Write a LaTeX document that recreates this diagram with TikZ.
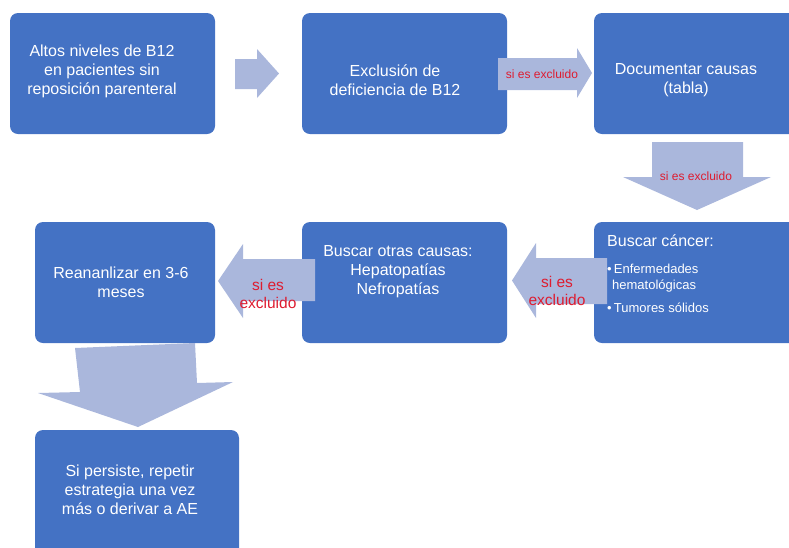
\documentclass[tikz,border=0pt]{standalone}
\usepackage{fontspec}
\setmainfont{Liberation Sans}
\usetikzlibrary{positioning}
\definecolor{boxblue}{RGB}{68,114,196}
\definecolor{arrowblue}{RGB}{170,183,220}
\definecolor{labelred}{RGB}{222,28,48}

\begin{document}
\begin{tikzpicture}[x=1pt,y=-1pt,
  box/.style={fill=boxblue,rounded corners=8pt,inner sep=0pt},
  boxtext/.style={text=white,align=center,font=\fontsize{16}{19}\selectfont,inner sep=0pt},
  blockarrow/.style={fill=arrowblue},
  smalllabel/.style={text=labelred,font=\fontsize{12}{14}\selectfont,inner sep=0pt},
  biglabel/.style={text=labelred,align=center,font=\fontsize{15.5}{18.5}\selectfont,inner sep=0pt}]
\useasboundingbox (0,0) rectangle (789,547);
\clip (0,0) rectangle (789,547);
% boxes
\node[box,minimum width=205pt,minimum height=121pt] (b1) at (112.5,73.5) {};
\node[box,minimum width=205pt,minimum height=121pt] (b2) at (404.5,73.5) {};
\node[box,minimum width=210pt,minimum height=121pt] (b3) at (699,73.5) {};
\node[box,minimum width=210pt,minimum height=121pt] (b4) at (699,282.5) {};
\node[box,minimum width=205pt,minimum height=121pt] (b5) at (404.5,282.5) {};
\node[box,minimum width=180pt,minimum height=121pt] (b6) at (125,282.5) {};
\node[box,minimum width=204pt,minimum height=130pt] (b7) at (137,495) {};
% block arrows
\fill[blockarrow] (235,59) -- (257,59) -- (257,49) -- (279,73.5) -- (257,98) -- (257,89) -- (235,89) -- cycle;
\fill[blockarrow] (498,58) -- (577,58) -- (577,48) -- (592,73) -- (577,98) -- (577,90) -- (498,90) -- cycle;
\fill[blockarrow] (652,142) -- (743,142) -- (743,177) -- (771,177) -- (697,210) -- (623,177) -- (652,177) -- cycle;
\fill[blockarrow] (607,258) -- (536,258) -- (536,243) -- (512,280.5) -- (536,318) -- (536,304) -- (607,304) -- cycle;
\fill[blockarrow] (315,259) -- (243,259) -- (243,244) -- (218,281) -- (243,318) -- (243,301) -- (315,301) -- cycle;
\fill[blockarrow] (75,348) -- (195,343) -- (197,383) -- (233,382) -- (138,427) -- (38,393) -- (80,392) -- cycle;
% texts
\node[boxtext] (t1) at (102,71) {Altos niveles de B12\\en pacientes sin\\reposición parenteral};
\node[boxtext] (t2) at (395,80) {Exclusión de\\deficiencia de B12};
\node[boxtext] (t3) at (686,80) {Documentar causas\\(tabla)};
\node[boxtext] (t5) at (398,272) {Buscar otras causas:\\Hepatopatías\\Nefropatías};
\node[boxtext] (t6) at (121,282) {Reananlizar en 3-6\\meses};
\node[boxtext] (t7) at (130,490) {Si persiste, repetir\\estrategia una vez\\más o derivar a AE};
\node[text=white,inner sep=0pt,anchor=base west,font=\fontsize{16}{19}\selectfont] (h4) at (607,246) {Buscar cáncer:};
\node[text=white,inner sep=0pt,anchor=base west,font=\fontsize{13}{16}\selectfont] (e4) at (607,273) {•\,Enfermedades};
\node[text=white,inner sep=0pt,anchor=base west,font=\fontsize{13}{16}\selectfont] (m4) at (612,289) {hematológicas};
\node[text=white,inner sep=0pt,anchor=base west,font=\fontsize{13}{16}\selectfont] (s4) at (607,312) {•\,Tumores sólidos};
% labels on arrows
\node[smalllabel] (l2) at (542,74) {si es excluido};
\node[smalllabel] (l3) at (696,176) {si es excluido};
\node[biglabel] (l4) at (557,291) {si es\\excluido};
\node[biglabel] (l5) at (268,294) {si es\\excluido};
\end{tikzpicture}
\end{document}
